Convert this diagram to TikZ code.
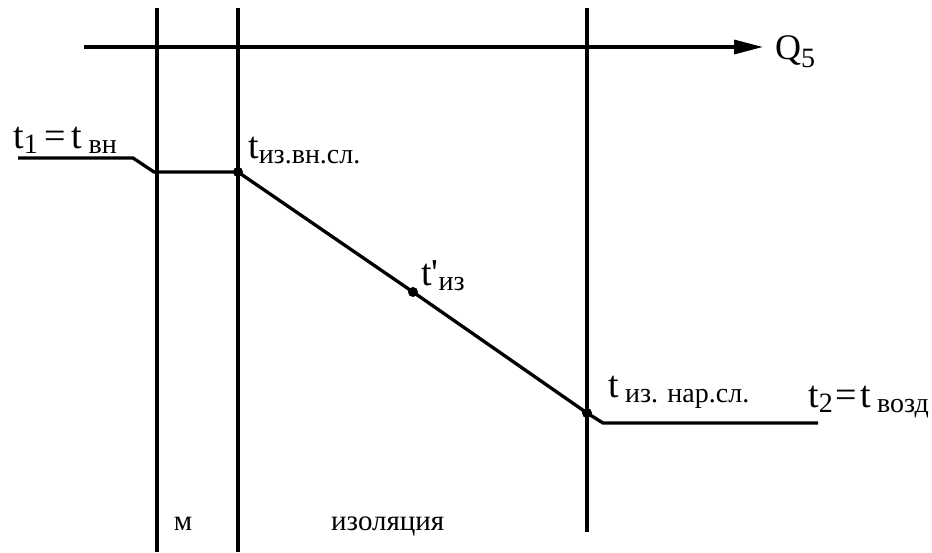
\documentclass[tikz,border=0pt]{standalone}
\usepackage{fontspec}
\setmainfont{Liberation Serif}
\usetikzlibrary{arrows.meta,positioning}
\newcommand{\lowsub}[1]{\raisebox{-0.3ex}{\fontsize{28}{28}\selectfont #1}}
\tikzset{wall/.style={line width=3.8pt},
  prof/.style={line width=3.3pt, line join=miter},
  tlbl/.style={anchor=base west, inner sep=0pt, font=\fontsize{38}{40}\selectfont},
  zlbl/.style={anchor=base west, inner sep=0pt, font=\fontsize{29}{30}\selectfont},
  dotp/.style={circle, fill, inner sep=0pt, minimum size=10pt}}
\begin{document}
\begin{tikzpicture}[x=1pt, y=-1pt]
  \useasboundingbox (0,0) rectangle (932,552);
  \coordinate (w1t) at (157,8);   \coordinate (w1b) at (157,552);
  \coordinate (w2t) at (238,8);   \coordinate (w2b) at (238,552);
  \coordinate (w3t) at (587,8);   \coordinate (w3b) at (587,532);
  \coordinate (qs) at (84,47);    \coordinate (qe) at (763,47);
  \coordinate (p0) at (18,158);   \coordinate (p1) at (133,158);
  \coordinate (p2) at (154,172);  \coordinate (p5) at (603,423);
  \coordinate (p6) at (818,423);
  \node[dotp] (tin) at (238,172) {};
  \node[dotp] (tmid) at (413,292) {};
  \node[dotp] (tout) at (587,413) {};
  \draw[wall] (w1t) -- (w1b);
  \draw[wall] (w2t) -- (w2b);
  \draw[wall] (w3t) -- (w3b);
  \draw[prof, -{Triangle[length=29pt, width=14pt]}] (qs) -- (qe);
  \node[tlbl, font=\fontsize{36}{36}\selectfont] (q) at (775,59) {Q\raisebox{-0.2ex}{\lowsub{5}}};
  \draw[prof] (p0) -- (p1) -- (p2) -- (tin.center) -- (tmid.center) -- (tout.center) -- (p5) -- (p6);
  \node[tlbl] (t1) at (13,148) {t\lowsub{1}\,=\,t\,\lowsub{вн}};
  \node[tlbl] (tiv) at (248,158) {t\lowsub{из.вн.сл.}};
  \node[tlbl] (tiz) at (421,285) {t\textquotesingle\lowsub{из}};
  \node[tlbl] (tin2) at (608,397) {t\,\lowsub{из. нар.сл.}};
  \node[tlbl] (t2) at (808,407) {t\lowsub{2}\kern3pt=\kern3pt t\,\lowsub{возд}};
  \node[zlbl, anchor=base] (m) at (183,530) {м};
  \node[zlbl] (iz) at (331,530) {изоляция};
\end{tikzpicture}
\end{document}
